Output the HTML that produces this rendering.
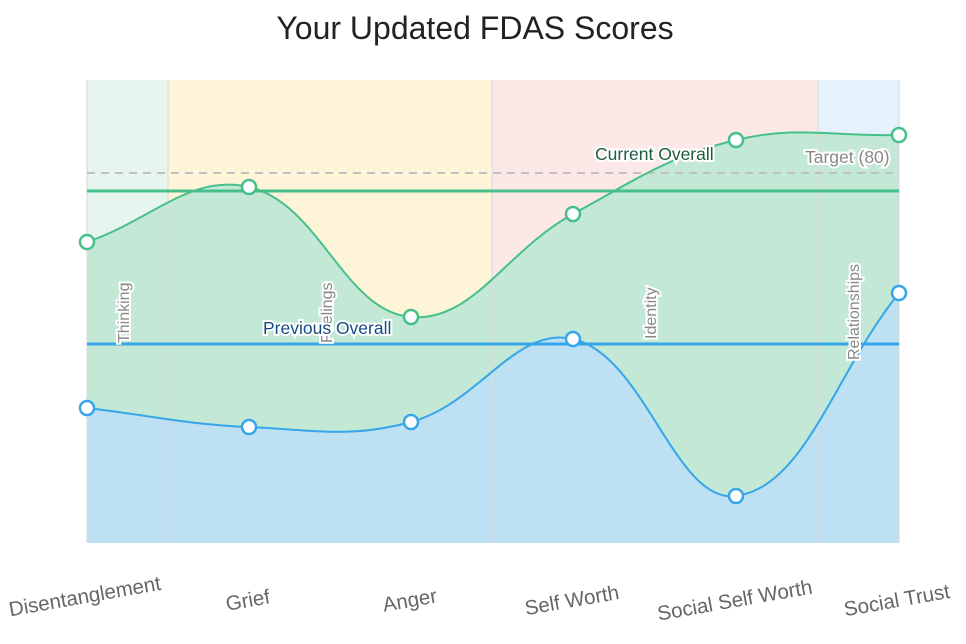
<!DOCTYPE html>
<html><head><meta charset="utf-8"><style>
body{margin:0;background:#fff;}
svg{display:block;font-family:"Liberation Sans",sans-serif;}
</style></head><body>
<svg id="s" width="966" height="644" viewBox="0 0 966 644">
<text x="475" y="39" font-size="32" fill="#222" text-anchor="middle">Your Updated FDAS Scores</text>
<rect x="87" y="80" width="81" height="463" fill="#e6f6ee"/>
<rect x="168" y="80" width="324" height="463" fill="#fef5d8"/>
<rect x="492" y="80" width="326" height="463" fill="#fde8e8"/>
<rect x="818" y="80" width="81" height="463" fill="#e5f1fd"/>
<path id="gf" fill="#c3e8d6"/>
<path id="bf" fill="#bde0f2"/>
<g stroke="#dcdcdc" stroke-width="1.5" opacity="0.8">
<line x1="87" y1="80" x2="87" y2="543"/><line x1="168" y1="80" x2="168" y2="543"/>
<line x1="492" y1="80" x2="492" y2="543"/><line x1="818" y1="80" x2="818" y2="543"/>
<line x1="899" y1="80" x2="899" y2="543"/>
</g>
<line x1="87" y1="173" x2="899" y2="173" stroke="#c0c0c0" stroke-width="2" stroke-dasharray="8,6"/>
<line x1="87" y1="191" x2="899" y2="191" stroke="#46c08a" stroke-width="3"/>
<line x1="87" y1="344" x2="899" y2="344" stroke="#36a6ea" stroke-width="3"/>
<path id="gl" fill="none" stroke="#46c08a" stroke-width="2"/>
<path id="bl" fill="none" stroke="#36a6ea" stroke-width="2"/>
<g id="pts"></g>
<g font-size="16" fill="#888" stroke="#fff" stroke-width="4" paint-order="stroke">
<text transform="translate(129,343) rotate(-90)">Thinking</text>
<text transform="translate(332,343) rotate(-90)">Feelings</text>
<text transform="translate(656,339) rotate(-90)">Identity</text>
<text transform="translate(859,360) rotate(-90)">Relationships</text>
<text x="805" y="163" font-size="17.5">Target (80)</text>
</g>
<g font-size="17.5" stroke="#fff" stroke-width="4" paint-order="stroke">
<text x="595" y="160" fill="#1e5c40">Current Overall</text>
<text x="263" y="334" fill="#154c86">Previous Overall</text>
</g>
<g font-size="20.5" fill="#666" text-anchor="middle">
<text transform="translate(86,603) rotate(-10)">Disentanglement</text>
<text transform="translate(249,607) rotate(-10)">Grief</text>
<text transform="translate(411,607) rotate(-10)">Anger</text>
<text transform="translate(573,607) rotate(-10)">Self Worth</text>
<text transform="translate(736,607) rotate(-10)">Social Self Worth</text>
<text transform="translate(898,607) rotate(-10)">Social Trust</text>
</g>
</svg>
<script>
var X=[87,249,411,573,736,899];
var G=[242,187,317,214,140,135],B=[408,427,422,339,496,293];
function path(Y){var p=X.map(function(x,i){return[x,Y[i]]});var t=0.4,c=[];
for(var i=0;i<p.length;i++){var pr=p[Math.max(0,i-1)],cu=p[i],nx=p[Math.min(p.length-1,i+1)];
var d1=Math.hypot(cu[0]-pr[0],cu[1]-pr[1]),d2=Math.hypot(nx[0]-cu[0],nx[1]-cu[1]);var s=d1+d2||1;
var fa=t*d1/s,fb=t*d2/s;c.push([[cu[0]-fa*(nx[0]-pr[0]),cu[1]-fa*(nx[1]-pr[1])],[cu[0]+fb*(nx[0]-pr[0]),cu[1]+fb*(nx[1]-pr[1])]]);}
var d="M"+p[0];for(i=1;i<p.length;i++){d+=" C"+c[i-1][1]+" "+c[i][0]+" "+p[i];}return d;}
var g=path(G),b=path(B);
document.getElementById('gl').setAttribute('d',g);document.getElementById('bl').setAttribute('d',b);
document.getElementById('gf').setAttribute('d',g+" L899,543 L87,543Z");
document.getElementById('bf').setAttribute('d',b+" L899,543 L87,543Z");
var h="";X.forEach(function(x,i){h+='<circle cx="'+x+'" cy="'+G[i]+'" r="7" fill="#fff" stroke="#46c08a" stroke-width="2.5"/>';
h+='<circle cx="'+x+'" cy="'+B[i]+'" r="7" fill="#fff" stroke="#36a6ea" stroke-width="2.5"/>';});
document.getElementById('pts').innerHTML=h;
</script>
</body></html>
